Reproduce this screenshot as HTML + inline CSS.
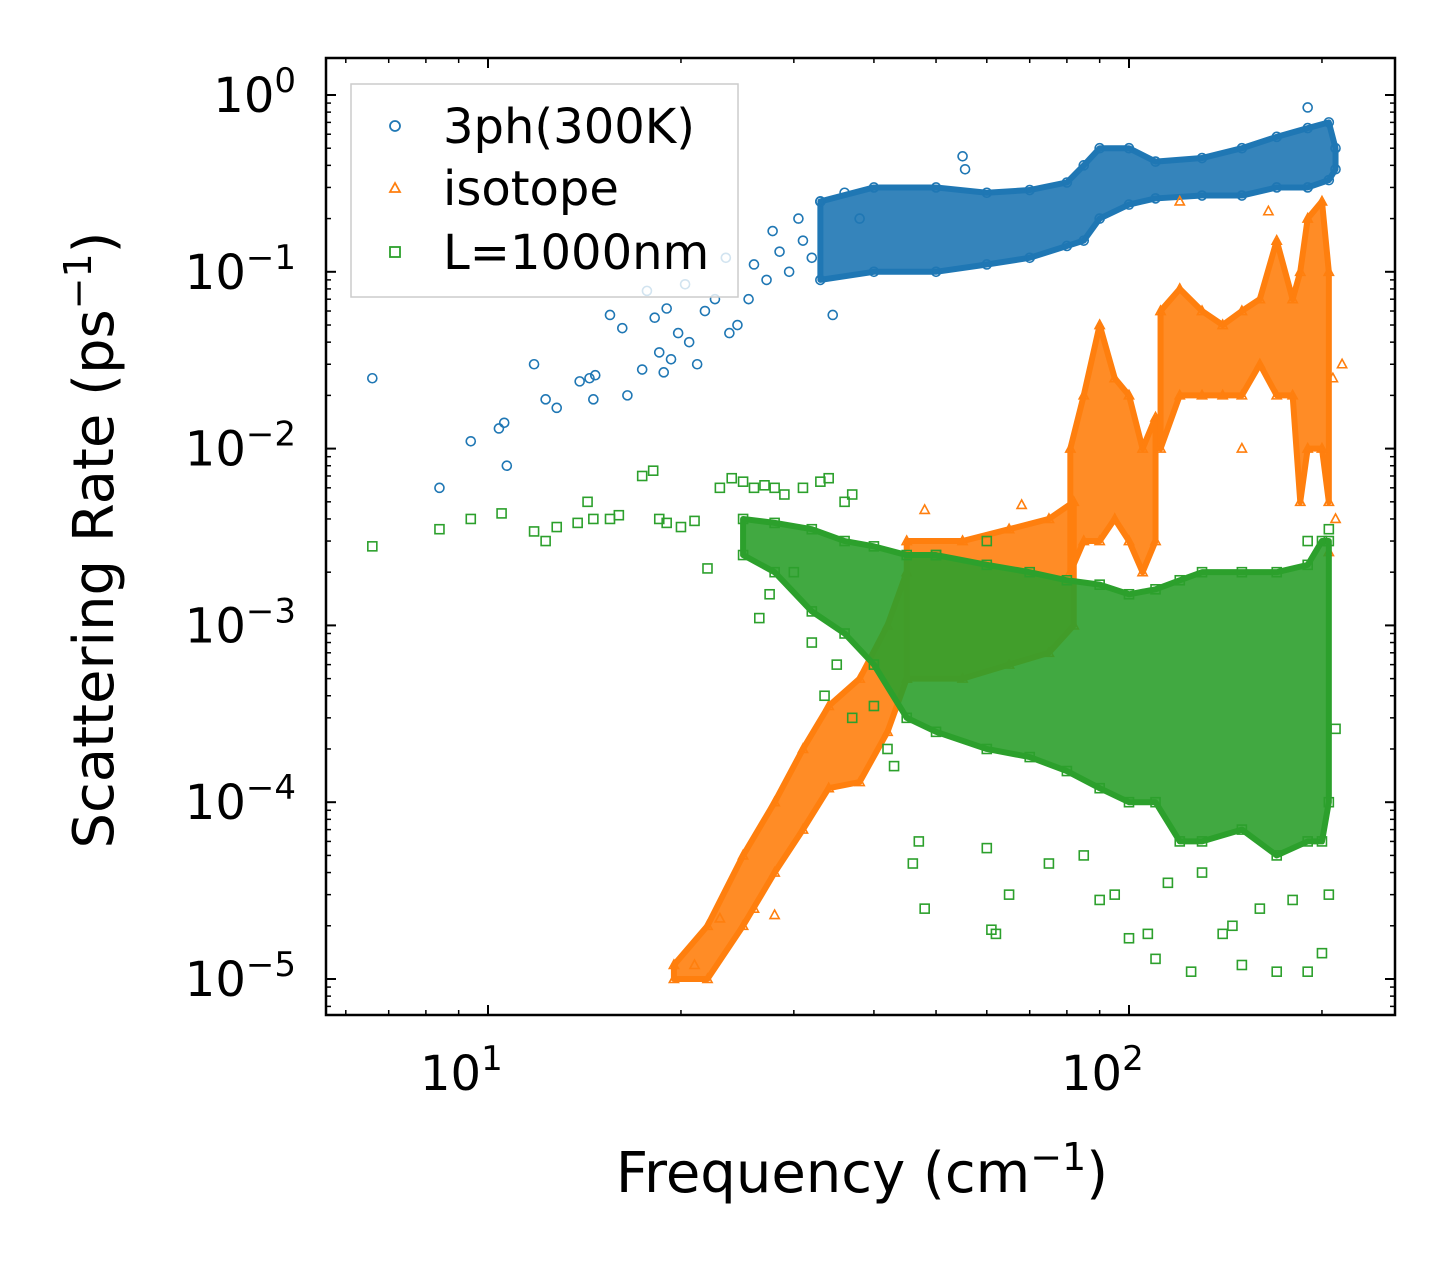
<!DOCTYPE html>
<html><head><meta charset="utf-8"><style>
body{margin:0;background:#fff;}
svg{display:block;font-family:"DejaVu Sans","Liberation Sans",sans-serif;}
</style></head><body>
<svg id="chart" width="1455" height="1265" viewBox="0 0 1455 1265" xmlns="http://www.w3.org/2000/svg">
<rect width="1455" height="1265" fill="#fff"/>
<g id="marks"></g>
<g id="axes"></g>
<text x="862" y="1192" font-size="56" text-anchor="middle">Frequency (cm<tspan dy="-22" font-size="38">−1</tspan><tspan dy="22">)</tspan></text>
<text transform="translate(113,540) rotate(-90)" font-size="56" text-anchor="middle">Scattering Rate (ps<tspan dy="-22" font-size="38">−1</tspan><tspan dy="22">)</tspan></text>
<g>
<rect x="351" y="84" width="387" height="213" fill="#fff" fill-opacity="0.8" stroke="#ccc" stroke-width="1.5"/>
<g><circle cx="395" cy="126" r="5" fill="none" stroke="#1f77b4" stroke-width="1.8"/><text x="443" y="143" font-size="48">3ph(300K)</text></g>
<g><polygon points="395,183 390,192 400,192" fill="none" stroke="#ff7f0e" stroke-width="1.8"/><text x="443" y="205" font-size="48">isotope</text></g>
<g><rect x="390" y="247" width="10" height="10" fill="none" stroke="#2ca02c" stroke-width="1.8"/><text x="443" y="269" font-size="48">L=1000nm</text></g>
</g>
</svg>
<script>
// ---- data ----
const blueFreq=[6.6,8.4,9.4,10.4,10.6,10.7,11.8,12.3,12.8,13.9,14.4,14.6,14.7,15.5,16.2,16.5,17.4,17.7,18.2,18.5,18.8,19,19.3,19.8,20.3,20.6,21.2,21.8,22.6,23.5,23.8,24.5,25.5,26,27.2,27.8,28.5,29.5,30.5,31,32,33,34.5,36,38,55,55.5,190];
const blueVal=[0.025,0.006,0.011,0.013,0.014,0.008,0.03,0.019,0.017,0.024,0.025,0.019,0.026,0.057,0.048,0.02,0.028,0.078,0.055,0.035,0.027,0.062,0.032,0.045,0.085,0.04,0.03,0.06,0.07,0.12,0.045,0.05,0.07,0.11,0.09,0.17,0.13,0.1,0.2,0.15,0.12,0.25,0.057,0.28,0.2,0.45,0.38,0.85];
const blueBandFreq=[33,40,50,60,70,80,85,90,100,110,130,150,170,190,205,210];
const blueBandLo=[0.09,0.1,0.1,0.11,0.12,0.14,0.15,0.2,0.24,0.26,0.27,0.27,0.3,0.3,0.33,0.38];
const blueBandHi=[0.25,0.3,0.3,0.28,0.29,0.32,0.4,0.5,0.5,0.42,0.44,0.5,0.58,0.65,0.7,0.5];

const orangeFreq=[21,23,26,28,48,68,120,165,150,210,215,208,205];
const orangeVal=[1.2e-5,2.2e-5,2.5e-5,2.3e-5,4.5e-3,4.8e-3,0.25,0.22,0.01,0.004,0.03,0.025,0.0026];
const orangeBandAFreq=[19.5,22,25,28,31,34,38,42,45];
const orangeBandALo=[1e-5,1e-5,2e-5,4e-5,7e-5,1.2e-4,1.3e-4,2.5e-4,5e-4];
const orangeBandAHi=[1.2e-5,2e-5,5e-5,1e-4,2e-4,3.5e-4,5e-4,1e-3,2e-3];
const orangeBandBFreq=[45,55,65,75,82];
const orangeBandBLo=[5e-4,5e-4,6e-4,7e-4,1e-3];
const orangeBandBHi=[3e-3,3e-3,3.5e-3,4e-3,5e-3];
const orangeBandCFreq=[81,85,90,95,100,105,110];
const orangeBandCLo=[0.002,0.003,0.003,0.004,0.003,0.002,0.003];
const orangeBandCHi=[0.01,0.02,0.05,0.025,0.02,0.01,0.015];
const orangeBandDFreq=[112,120,130,140,150,160,170,180,185,190,200,205];
const orangeBandDLo=[0.01,0.02,0.02,0.02,0.02,0.03,0.02,0.02,0.005,0.01,0.01,0.005];
const orangeBandDHi=[0.06,0.08,0.06,0.05,0.06,0.07,0.15,0.07,0.1,0.2,0.25,0.1];

const greenFreq=[6.6,8.4,9.4,10.5,11.8,12.3,12.8,13.8,14.3,14.6,15.5,16,17.4,18.1,18.5,19,20,21,22,23,24,25,26,27,28,29,31,33,34,36,37,26.5,27.5,30,32,33.5,35,37,40,42,43,46,47,48,61,62,60,75,85,95,100,107,110,125,140,150,170,190,200,145,160,180,205,90,65,115,130,210,205,190,60,50];
const greenVal=[0.0028,0.0035,0.004,0.0043,0.0034,0.003,0.0036,0.0038,0.005,0.004,0.004,0.0042,0.007,0.0075,0.004,0.0038,0.0036,0.0039,0.0021,0.006,0.0068,0.0065,0.006,0.0062,0.006,0.0055,0.006,0.0065,0.0068,0.005,0.0055,0.0011,0.0015,0.002,0.0008,0.0004,0.0006,0.0003,0.00035,0.0002,0.00016,4.5e-5,6e-5,2.5e-5,1.9e-5,1.8e-5,5.5e-5,4.5e-5,5e-5,3e-5,1.7e-5,1.8e-5,1.3e-5,1.1e-5,1.8e-5,1.2e-5,1.1e-5,1.1e-5,1.4e-5,2e-5,2.5e-5,2.8e-5,3e-5,2.8e-5,3e-5,3.5e-5,4e-5,2.6e-4,3.5e-3,3e-3,3e-3,2.5e-3];
const greenBandFreq=[25,28,32,36,40,45,50,60,70,80,90,100,110,120,130,150,170,190,200,205];
const greenBandLo=[0.0025,0.002,0.0012,0.0009,0.0006,0.0003,0.00025,0.0002,0.00018,0.00015,0.00012,0.0001,0.0001,0.00006,0.00006,0.00007,0.00005,0.00006,0.00006,0.0001];
const greenBandHi=[0.004,0.0038,0.0035,0.003,0.0028,0.0025,0.0025,0.0022,0.002,0.0018,0.0017,0.0015,0.0016,0.0018,0.002,0.002,0.002,0.0022,0.003,0.003];

const xTickVals=[10,100];
const yTickExps=[0,-1,-2,-3,-4,-5];

// ---- axes functions ----
const L=326,R=1395,T=58,B=1015;
function xs(f){return 488+641*(Math.log10(f)-1);}
function ys(v){return 95-176.8*Math.log10(v);}
const NS="http://www.w3.org/2000/svg";
function mk(tag,attrs,parent){const e=document.createElementNS(NS,tag);for(const k in attrs)e.setAttribute(k,attrs[k]);parent.appendChild(e);return e;}
const marks=document.getElementById('marks');
const axes=document.getElementById('axes');
const clip=mk('clipPath',{id:'pc'},mk('defs',{},marks));
mk('rect',{x:L,y:T,width:R-L,height:B-T},clip);
const g=mk('g',{'clip-path':'url(#pc)'},marks);

function marker(type,f,v,color,parent){
  const x=xs(f),y=ys(v);let e;
  if(type==='c')e=mk('circle',{cx:x,cy:y,r:4.5,fill:'none',stroke:color,'stroke-width':1.6},parent);
  else if(type==='t')e=mk('polygon',{points:`${x},${y-5} ${x-4.6},${y+3.5} ${x+4.6},${y+3.5}`,fill:'none',stroke:color,'stroke-width':1.6},parent);
  else e=mk('rect',{x:x-4.5,y:y-4.5,width:9,height:9,fill:'none',stroke:color,'stroke-width':1.6},parent);
  
  
}
function band(fr,lo,hi,color,type,name){
  const grp=mk('g',{},g);
  
  
  let pts=fr.map((f,i)=>xs(f)+','+ys(hi[i]));
  for(let i=fr.length-1;i>=0;i--)pts.push(xs(fr[i])+','+ys(lo[i]));
  const p=mk('polygon',{points:pts.join(' '),fill:color,'fill-opacity':0.9,stroke:color,'stroke-width':6,'stroke-linejoin':'round'},grp);
  
  
  fr.forEach((f,i)=>{marker(type,f,lo[i],color,grp);marker(type,f,hi[i],color,grp);});
}
function scatter(fr,vals,color,type,name){
  const grp=mk('g',{},g);
  
  
  fr.forEach((f,i)=>marker(type,f,vals[i],color,grp));
}
const BL='#1f77b4',OR='#ff7f0e',GR='#2ca02c';
band(blueBandFreq,blueBandLo,blueBandHi,BL,'c','series-3ph-dense');
scatter(blueFreq,blueVal,BL,'c','series-3ph');
band(orangeBandAFreq,orangeBandALo,orangeBandAHi,OR,'t','series-isotope-low');
band(orangeBandBFreq,orangeBandBLo,orangeBandBHi,OR,'t','series-isotope-mid');
band(orangeBandCFreq,orangeBandCLo,orangeBandCHi,OR,'t','series-isotope-peak1');
band(orangeBandDFreq,orangeBandDLo,orangeBandDHi,OR,'t','series-isotope-peak2');
scatter(orangeFreq,orangeVal,OR,'t','series-isotope');
band(greenBandFreq,greenBandLo,greenBandHi,GR,'s','series-boundary-dense');
scatter(greenFreq,greenVal,GR,'s','series-boundary');

// frame
const fr=mk('rect',{x:L,y:T,width:R-L,height:B-T,fill:'none',stroke:'#000','stroke-width':2.5},axes);


// x ticks
for(let d=0;d<=2;d++)for(let m=1;m<=9;m++){
  const f=m*Math.pow(10,d);const x=xs(f);if(x<L||x>R)continue;
  const len=m===1?10:5;
  mk('line',{x1:x,y1:B,x2:x,y2:B-len,stroke:'#000','stroke-width':m===1?2:1.5},axes);
  mk('line',{x1:x,y1:T,x2:x,y2:T+len,stroke:'#000','stroke-width':m===1?2:1.5},axes);
}
xTickVals.forEach(v=>{
  const t=mk('text',{x:xs(v)-68,y:1090,'font-size':48},axes);
  
  
  t.innerHTML='10<tspan dy="-20" font-size="34">'+Math.round(Math.log10(v))+'</tspan>';
});
// y ticks
for(let e=-6;e<=0;e++)for(let m=1;m<=9;m++){
  const v=m*Math.pow(10,e);const y=ys(v);if(y<T||y>B)continue;
  const len=m===1?10:5;
  mk('line',{x1:L,y1:y,x2:L+len,y2:y,stroke:'#000','stroke-width':m===1?2:1.5},axes);
  mk('line',{x1:R,y1:y,x2:R-len,y2:y,stroke:'#000','stroke-width':m===1?2:1.5},axes);
}
yTickExps.forEach(e=>{
  const t=mk('text',{x:296,y:ys(Math.pow(10,e))+17,'font-size':48,'text-anchor':'end'},axes);
  
  
  t.innerHTML='10<tspan dy="-20" font-size="34">'+(e===0?'0':'−'+(-e))+'</tspan>';
});
</script>
</body></html>
